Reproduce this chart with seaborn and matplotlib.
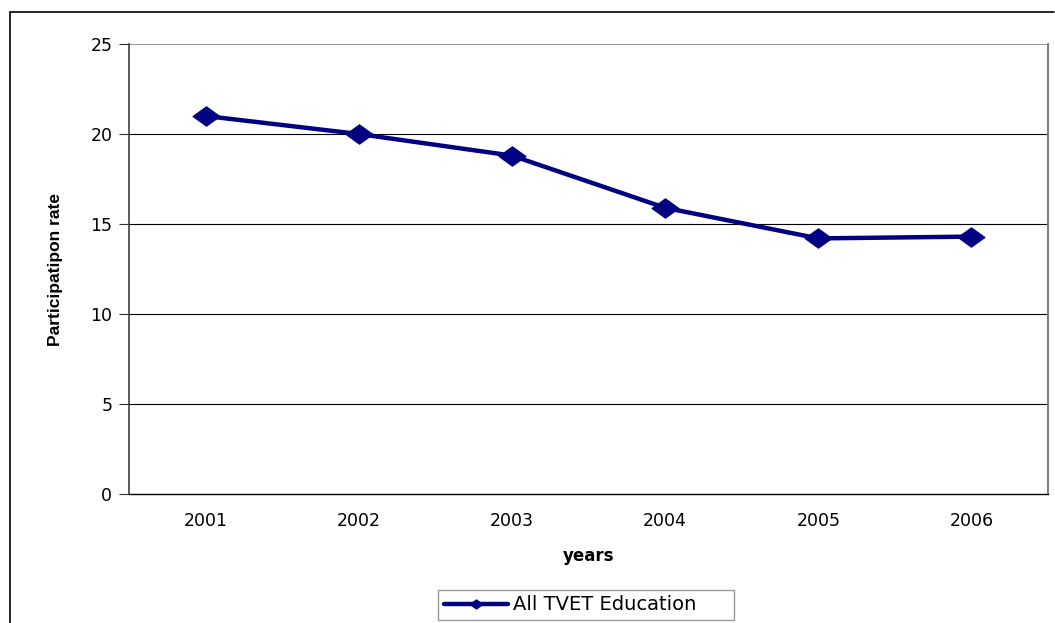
import matplotlib
matplotlib.use("Agg")
import matplotlib.pyplot as plt
from matplotlib.path import Path
from matplotlib.lines import Line2D
import seaborn as sns
import pandas as pd

years = ["2001", "2002", "2003", "2004", "2005", "2006"]
rates = [21.0, 20.0, 18.8, 15.9, 14.2, 14.3]
series_name = "All TVET Education"
y_ticks = [0, 5, 10, 15, 20, 25]

sns.set_style("white")
plt.rcParams["font.family"] = ["DejaVu Sans"]
plt.rcParams["text.color"] = "black"
plt.rcParams["axes.labelcolor"] = "black"
plt.rcParams["xtick.color"] = "black"
plt.rcParams["ytick.color"] = "black"

navy = "#000080"
# slightly flattened diamond, as in spreadsheet charts
diamond = Path([(-1, 0), (0, 0.72), (1, 0), (0, -0.72), (-1, 0)],
               [Path.MOVETO, Path.LINETO, Path.LINETO, Path.LINETO, Path.CLOSEPOLY])

df = pd.DataFrame({"year": years, "rate": rates})

W, H = 1055, 623
fig = plt.figure(figsize=(W / 100, H / 100), dpi=100)
ax = fig.add_axes([129 / W, 1 - 494 / H, (1048 - 129) / W, (494 - 44) / H])

sns.lineplot(data=df, x="year", y="rate", sort=False, ax=ax, color=navy,
             linewidth=3.2, marker=diamond, markersize=19.5,
             markeredgecolor=navy, markerfacecolor=navy, legend=False, zorder=5)

ax.set_xlim(-0.5, len(years) - 0.5)
ax.set_ylim(0, 25)
ax.set_yticks(y_ticks)
ax.set_yticklabels([str(v) for v in y_ticks])
ax.set_xticks(range(len(years)))
ax.set_xticklabels(years)
ax.set_xticks([i - 0.5 for i in range(len(years) + 1)], minor=True)

ax.tick_params(axis="x", which="major", length=0, pad=13, labelsize=12.5, labelcolor="black")
ax.tick_params(axis="x", which="minor", length=5, width=0.8, color="#333333", direction="out")
ax.tick_params(axis="y", which="major", length=7, width=0.8, pad=5, labelsize=12.5,
               color="#333333", labelcolor="black", direction="out", left=True)

for v in y_ticks[1:-1]:
    ax.axhline(v, color="black", linewidth=0.8, zorder=1)
ax.axhline(25, color="#808080", linewidth=1.2, zorder=1)

ax.spines["left"].set_color("#404040")
ax.spines["left"].set_linewidth(1.2)
ax.spines["bottom"].set_color("black")
ax.spines["bottom"].set_linewidth(1.0)
ax.spines["right"].set_color("#808080")
ax.spines["right"].set_linewidth(1.5)
ax.spines["top"].set_visible(False)

ax.set_xlabel("years", fontsize=12, fontweight="bold", labelpad=12, color="black")
ax.set_ylabel("Participatipon rate", fontsize=12.5, fontweight="bold", labelpad=20,
              color="black", family=["Liberation Sans", "DejaVu Sans"])

handle = Line2D([0], [0], color=navy, linewidth=3.2, marker=diamond, markersize=9,
                markerfacecolor=navy, markeredgecolor=navy)
# legend box stretched across a fixed strip below the axis title
x0, x1, y0, y1 = 438, 734, 588, 622
leg = fig.legend([handle], [series_name], loc="center", mode="expand",
                 bbox_to_anchor=(x0 / W, 1 - y1 / H, (x1 - x0) / W, (y1 - y0) / H),
                 frameon=True, fancybox=False, edgecolor="#808080", fontsize=14,
                 handlelength=3.3, handletextpad=0.25, borderpad=0.3, borderaxespad=0)
leg.get_frame().set_linewidth(1.0)

# outer chart border
fig.add_artist(Line2D([10 / W, 10 / W], [0, 1 - 12 / H], transform=fig.transFigure,
                      color="black", linewidth=1.2))
fig.add_artist(Line2D([10 / W, 1054 / W], [1 - 12 / H, 1 - 12 / H],
                      transform=fig.transFigure, color="black", linewidth=1.2))

fig.savefig("out.png", dpi=100)
